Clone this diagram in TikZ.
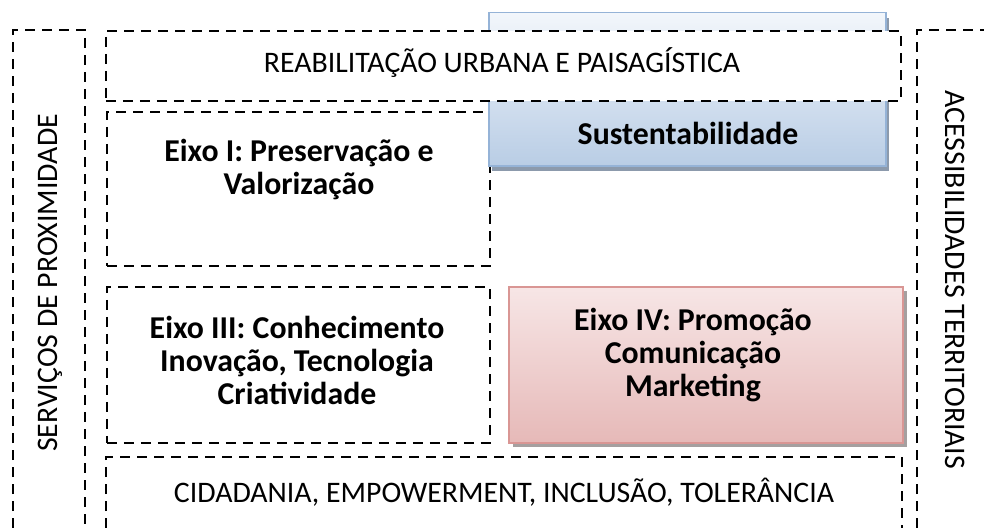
\documentclass[tikz,border=0pt]{standalone}
\usepackage{fontspec}
\setmainfont{Carlito}
\definecolor{blueedge}{HTML}{95B3D7}
\definecolor{bluetop}{HTML}{F2F6FB}
\definecolor{bluebot}{HTML}{B9CDE5}
\definecolor{blueshadow}{HTML}{8C9AAC}
\definecolor{rededge}{HTML}{D99694}
\definecolor{redtop}{HTML}{F7E6E6}
\definecolor{redbot}{HTML}{E6B9B8}
\definecolor{redshadow}{HTML}{A5A0A0}
\tikzset{
  dbox/.style={draw=black, line width=1.8pt, dash pattern=on 10pt off 7pt},
  reg/.style={font=\fontsize{29.8}{34}\selectfont, inner sep=0pt},
  bld/.style={font=\bfseries\fontsize{31.8}{33}\selectfont, align=center, inner sep=0pt},
  bluebox/.style={draw=blueedge, line width=1.5pt, top color=bluetop, bottom color=bluebot, minimum width=397pt, minimum height=153pt, anchor=north west, inner sep=0pt},
  redbox/.style={draw=rededge, line width=1.5pt, top color=redtop, bottom color=redbot, minimum width=394pt, minimum height=156pt, anchor=north west, inner sep=0pt},
  shadowbox/.style={anchor=north west, inner sep=0pt},
}
\begin{document}
\begin{tikzpicture}[x=1pt,y=-1pt]
\clip (0,0) rectangle (984,527);
\fill[white] (0,0) rectangle (984,527);
% outer side boxes (open at the bottom / right)
\draw[dbox] (13,545) -- (13,30) -- (85,30) -- (85,545);
\draw[dbox] (917,545) -- (917,30) -- (1000,30);
% Eixo I and Eixo III dashed boxes
\node[dbox, anchor=north west, minimum width=383pt, minimum height=154pt, inner sep=0pt] (eixoI) at (106,111) {};
\node[dbox, anchor=north west, minimum width=383pt, minimum height=156pt, inner sep=0pt] (eixoIII) at (106,286) {};
% bottom box
\draw[dbox] (106,545) -- (106,457) -- (902,457) -- (902,545);
% blue box with shadow
\node[shadowbox, fill=blueshadow, minimum width=397pt, minimum height=153pt] (sustsh) at (492,18) {};
\node[bluebox] (sust) at (488,12) {};
% top dashed box (covers upper part of blue box)
\node[dbox, fill=white, anchor=north west, minimum width=795pt, minimum height=70pt, inner sep=0pt] (reab) at (105,30) {};
% red box with shadow
\node[shadowbox, fill=redshadow, minimum width=394pt, minimum height=156pt] (promsh) at (513,291) {};
\node[redbox] (prom) at (508,286) {};
% texts
\node[reg] (treab) at (502,63) {REABILITAÇÃO URBANA E PAISAGÍSTICA};
\node[reg] (tcid) at (504,492) {CIDADANIA, EMPOWERMENT, INCLUSÃO, TOLERÂNCIA};
\node[reg, rotate=90] (tserv) at (50,283) {SERVIÇOS DE PROXIMIDADE};
\node[reg, rotate=-90] (tacess) at (955,280) {ACESSIBILIDADES TERRITORIAIS};
\node[bld] (tsust) at (688,133) {Sustentabilidade};
\node[bld] (teixoI) at (299,170) {Eixo I: Preservação e\\Valorização};
\node[bld] (teixoIII) at (297,360) {Eixo III: Conhecimento\\Inovação, Tecnologia\\Criatividade};
\node[bld] (teixoIV) at (693,355) {Eixo IV: Promoção\\Comunicação\\Marketing};
\end{tikzpicture}
\end{document}
